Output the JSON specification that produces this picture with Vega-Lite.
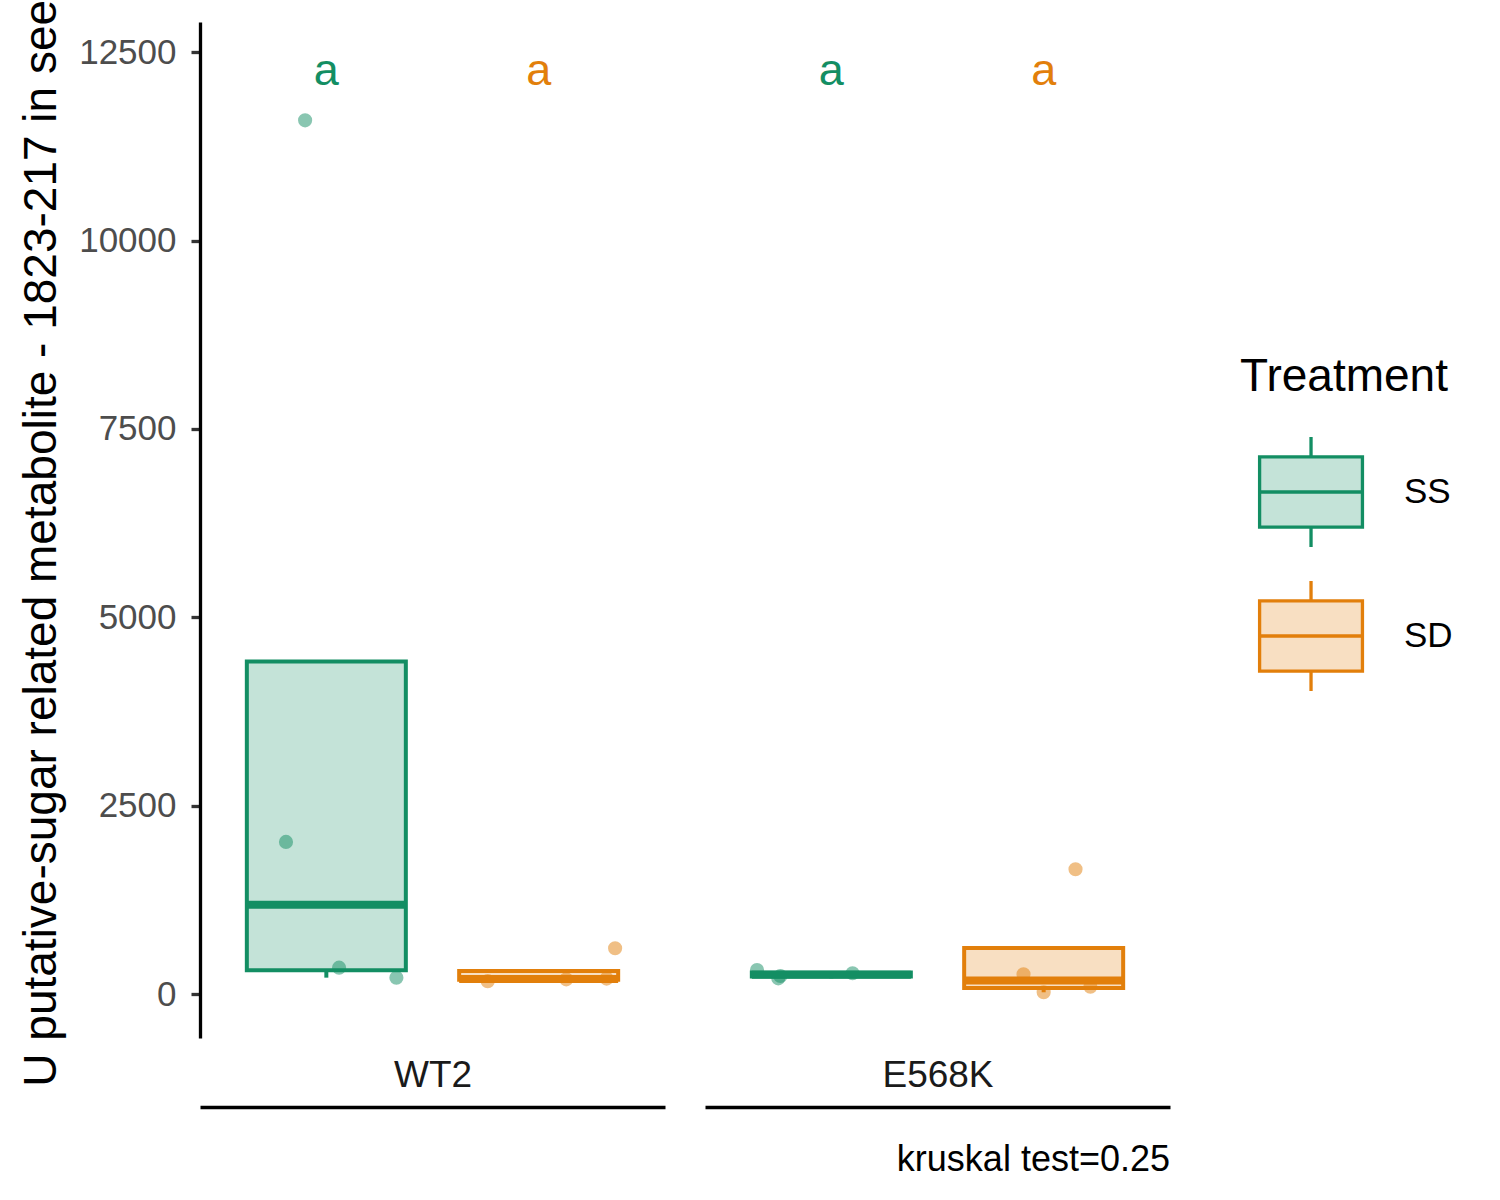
{
  "$schema": "https://vega.github.io/schema/vega-lite/v6.json",
  "autosize": {"type": "none"},
  "padding": {"left": 200, "top": 22, "right": 1300, "bottom": 1178},
  "bounds": "flush",
  "spacing": 40,
  "config": {
    "font": "Liberation Sans",
    "view": {"stroke": null},
    "axis": {"grid": false}
  },
  "datasets": {
    "points": [
      {"Genotype": "WT2", "Treatment": "SS", "value": 11597, "jitter": -0.10},
      {"Genotype": "WT2", "Treatment": "SS", "value": 2019, "jitter": -0.19},
      {"Genotype": "WT2", "Treatment": "SS", "value": 350, "jitter": 0.06},
      {"Genotype": "WT2", "Treatment": "SS", "value": 217, "jitter": 0.33},
      {"Genotype": "WT2", "Treatment": "SD", "value": 170, "jitter": -0.24},
      {"Genotype": "WT2", "Treatment": "SD", "value": 195, "jitter": 0.13},
      {"Genotype": "WT2", "Treatment": "SD", "value": 205, "jitter": 0.32},
      {"Genotype": "WT2", "Treatment": "SD", "value": 607, "jitter": 0.36},
      {"Genotype": "E568K", "Treatment": "SS", "value": 319, "jitter": -0.35},
      {"Genotype": "E568K", "Treatment": "SS", "value": 208, "jitter": -0.25},
      {"Genotype": "E568K", "Treatment": "SS", "value": 239, "jitter": -0.24},
      {"Genotype": "E568K", "Treatment": "SS", "value": 275, "jitter": 0.10},
      {"Genotype": "E568K", "Treatment": "SD", "value": 262, "jitter": -0.095},
      {"Genotype": "E568K", "Treatment": "SD", "value": 23, "jitter": 0.0},
      {"Genotype": "E568K", "Treatment": "SD", "value": 97, "jitter": 0.22},
      {"Genotype": "E568K", "Treatment": "SD", "value": 1656, "jitter": 0.15}
    ],
    "boxes": [
      {"Genotype": "WT2", "Treatment": "SS", "lower": 217, "q1": 316.75, "median": 1184.5, "q3": 4413.5, "upper": 4413.5, "letter": "a"},
      {"Genotype": "WT2", "Treatment": "SD", "lower": 170, "q1": 188.75, "median": 200, "q3": 305.5, "upper": 305.5, "letter": "a"},
      {"Genotype": "E568K", "Treatment": "SS", "lower": 208, "q1": 231.25, "median": 257, "q3": 286, "upper": 286, "letter": "a"},
      {"Genotype": "E568K", "Treatment": "SD", "lower": 23, "q1": 78.5, "median": 179.5, "q3": 610.5, "upper": 610.5, "letter": "a"}
    ]
  },
  "hconcat": [
    {
      "width": 465,
      "height": 1016,
      "encoding": {
        "x": {
          "field": "Treatment", "type": "nominal", "sort": ["SS", "SD"],
          "scale": {"domain": ["SS", "SD"], "paddingInner": 0.25, "paddingOuter": 0.22},
          "axis": {
            "title": "WT2", "titleFontSize": 37, "titleFontWeight": "normal", "titleColor": "#1A1A1A",
            "titleY": -32, "titleBaseline": "middle",
            "labels": false, "ticks": false,
            "domainColor": "#000000", "domainWidth": 3.5, "offset": 69
          }
        },
        "color": {
          "field": "Treatment", "type": "nominal",
          "scale": {"domain": ["SS", "SD"], "range": ["#138E63", "#E27F0B"]},
          "legend": {
            "orient": "none", "legendX": 1040, "legendY": 333,
            "title": "Treatment", "titleFontSize": 46, "titleFontWeight": "normal", "titleColor": "#000000",
            "titleLimit": 400, "titlePadding": 34,
            "labelFontSize": 35, "labelColor": "#000000", "labelOffset": 50,
            "symbolType": "M-0.68,-0.64H1.19V0.64H-0.68Z M0.255,-1V-0.64 M0.255,0.64V1 M-0.68,0H1.19",
            "symbolSize": 12100, "symbolStrokeWidth": 3.3, "rowPadding": 20,
            "encode": {
              "symbols": {
                "update": {
                  "fill": {"scale": "color", "field": "value"},
                  "stroke": {"scale": "color", "field": "value"},
                  "fillOpacity": {"value": 0.25},
                  "opacity": {"value": 1},
                  "strokeWidth": {"value": 3.3}
                }
              }
            }
          }
        }
      },
      "layer": [
        {
          "data": {"name": "points"},
          "transform": [{"filter": "datum.Genotype == 'WT2'"}],
          "mark": {"type": "circle", "size": 200, "opacity": 0.5},
          "encoding": {
            "xOffset": {"field": "jitter", "type": "quantitative", "scale": {"domain": [-0.375, 0.375]}},
            "y": {
              "field": "value", "type": "quantitative",
              "scale": {"domain": [-584, 12902], "nice": false, "zero": false},
              "axis": {
                "values": [0, 2500, 5000, 7500, 10000, 12500], "format": "d",
                "title": "U putative-sugar related metabolite - 1823-217 in seed",
                "titleFontSize": 46, "titleFontWeight": "normal", "titleColor": "#000000",
                "titleX": -145, "titleBaseline": "alphabetic",
                "labelFontSize": 35, "labelColor": "#4D4D4D", "labelPadding": 15,
                "tickSize": 9, "tickWidth": 3.3, "tickColor": "#333333",
                "domainColor": "#000000", "domainWidth": 3.3
              }
            }
          }
        },
        {
          "data": {"name": "boxes"},
          "transform": [{"filter": "datum.Genotype == 'WT2'"}],
          "layer": [
            {
              "mark": {"type": "rule", "strokeWidth": 4},
              "encoding": {
                "y": {
                  "field": "lower", "type": "quantitative",
                  "axis": {
                    "values": [0, 2500, 5000, 7500, 10000, 12500], "format": "d",
                    "title": "U putative-sugar related metabolite - 1823-217 in seed",
                    "titleFontSize": 46, "titleFontWeight": "normal", "titleColor": "#000000",
                    "titleX": -145, "titleBaseline": "alphabetic",
                    "labelFontSize": 35, "labelColor": "#4D4D4D", "labelPadding": 15,
                    "tickSize": 9, "tickWidth": 3.3, "tickColor": "#333333",
                    "domainColor": "#000000", "domainWidth": 3.3
                  }
                },
                "y2": {"field": "q1"}
              }
            },
            {
              "mark": {"type": "rule", "strokeWidth": 4},
              "encoding": {
                "y": {
                  "field": "q3", "type": "quantitative",
                  "axis": {
                    "values": [0, 2500, 5000, 7500, 10000, 12500], "format": "d",
                    "title": "U putative-sugar related metabolite - 1823-217 in seed",
                    "titleFontSize": 46, "titleFontWeight": "normal", "titleColor": "#000000",
                    "titleX": -145, "titleBaseline": "alphabetic",
                    "labelFontSize": 35, "labelColor": "#4D4D4D", "labelPadding": 15,
                    "tickSize": 9, "tickWidth": 3.3, "tickColor": "#333333",
                    "domainColor": "#000000", "domainWidth": 3.3
                  }
                },
                "y2": {"field": "upper"}
              }
            },
            {
              "mark": {"type": "bar", "width": 159, "fillOpacity": 0.25, "strokeWidth": 4},
              "encoding": {
                "y": {
                  "field": "q1", "type": "quantitative",
                  "axis": {
                    "values": [0, 2500, 5000, 7500, 10000, 12500], "format": "d",
                    "title": "U putative-sugar related metabolite - 1823-217 in seed",
                    "titleFontSize": 46, "titleFontWeight": "normal", "titleColor": "#000000",
                    "titleX": -145, "titleBaseline": "alphabetic",
                    "labelFontSize": 35, "labelColor": "#4D4D4D", "labelPadding": 15,
                    "tickSize": 9, "tickWidth": 3.3, "tickColor": "#333333",
                    "domainColor": "#000000", "domainWidth": 3.3
                  }
                },
                "y2": {"field": "q3"},
                "stroke": {
                  "field": "Treatment", "type": "nominal",
                  "scale": {"domain": ["SS", "SD"], "range": ["#138E63", "#E27F0B"]},
                  "legend": null
                }
              }
            },
            {
              "mark": {"type": "tick", "thickness": 8, "size": 159, "opacity": 1},
              "encoding": {
                "y": {
                  "field": "median", "type": "quantitative",
                  "axis": {
                    "values": [0, 2500, 5000, 7500, 10000, 12500], "format": "d",
                    "title": "U putative-sugar related metabolite - 1823-217 in seed",
                    "titleFontSize": 46, "titleFontWeight": "normal", "titleColor": "#000000",
                    "titleX": -145, "titleBaseline": "alphabetic",
                    "labelFontSize": 35, "labelColor": "#4D4D4D", "labelPadding": 15,
                    "tickSize": 9, "tickWidth": 3.3, "tickColor": "#333333",
                    "domainColor": "#000000", "domainWidth": 3.3
                  }
                }
              }
            },
            {
              "mark": {"type": "text", "fontSize": 45, "baseline": "middle"},
              "encoding": {
                "y": {
                  "datum": 12250, "type": "quantitative",
                  "axis": {
                    "values": [0, 2500, 5000, 7500, 10000, 12500], "format": "d",
                    "title": "U putative-sugar related metabolite - 1823-217 in seed",
                    "titleFontSize": 46, "titleFontWeight": "normal", "titleColor": "#000000",
                    "titleX": -145, "titleBaseline": "alphabetic",
                    "labelFontSize": 35, "labelColor": "#4D4D4D", "labelPadding": 15,
                    "tickSize": 9, "tickWidth": 3.3, "tickColor": "#333333",
                    "domainColor": "#000000", "domainWidth": 3.3
                  }
                },
                "text": {"field": "letter"}
              }
            }
          ]
        }
      ]
    },
    {
      "width": 465,
      "height": 1016,
      "title": {
        "text": "kruskal test=0.25", "orient": "bottom", "anchor": "end", "frame": "group",
        "fontSize": 36, "fontWeight": "normal", "color": "#000000", "offset": 36
      },
      "encoding": {
        "x": {
          "field": "Treatment", "type": "nominal", "sort": ["SS", "SD"],
          "scale": {"domain": ["SS", "SD"], "paddingInner": 0.25, "paddingOuter": 0.22},
          "axis": {
            "title": "E568K", "titleFontSize": 37, "titleFontWeight": "normal", "titleColor": "#1A1A1A",
            "titleY": -32, "titleBaseline": "middle",
            "labels": false, "ticks": false,
            "domainColor": "#000000", "domainWidth": 3.5, "offset": 69
          }
        },
        "color": {
          "field": "Treatment", "type": "nominal",
          "scale": {"domain": ["SS", "SD"], "range": ["#138E63", "#E27F0B"]},
          "legend": {
            "orient": "none", "legendX": 1040, "legendY": 333,
            "title": "Treatment", "titleFontSize": 46, "titleFontWeight": "normal", "titleColor": "#000000",
            "titleLimit": 400, "titlePadding": 34,
            "labelFontSize": 35, "labelColor": "#000000", "labelOffset": 50,
            "symbolType": "M-0.68,-0.64H1.19V0.64H-0.68Z M0.255,-1V-0.64 M0.255,0.64V1 M-0.68,0H1.19",
            "symbolSize": 12100, "symbolStrokeWidth": 3.3, "rowPadding": 20,
            "encode": {
              "symbols": {
                "update": {
                  "fill": {"scale": "color", "field": "value"},
                  "stroke": {"scale": "color", "field": "value"},
                  "fillOpacity": {"value": 0.25},
                  "opacity": {"value": 1},
                  "strokeWidth": {"value": 3.3}
                }
              }
            }
          }
        }
      },
      "layer": [
        {
          "data": {"name": "points"},
          "transform": [{"filter": "datum.Genotype == 'E568K'"}],
          "mark": {"type": "circle", "size": 200, "opacity": 0.5},
          "encoding": {
            "xOffset": {"field": "jitter", "type": "quantitative", "scale": {"domain": [-0.375, 0.375]}},
            "y": {
              "field": "value", "type": "quantitative",
              "scale": {"domain": [-584, 12902], "nice": false, "zero": false},
              "axis": null
            }
          }
        },
        {
          "data": {"name": "boxes"},
          "transform": [{"filter": "datum.Genotype == 'E568K'"}],
          "layer": [
            {
              "mark": {"type": "rule", "strokeWidth": 4},
              "encoding": {
                "y": {"field": "lower", "type": "quantitative", "axis": null},
                "y2": {"field": "q1"}
              }
            },
            {
              "mark": {"type": "rule", "strokeWidth": 4},
              "encoding": {
                "y": {"field": "q3", "type": "quantitative", "axis": null},
                "y2": {"field": "upper"}
              }
            },
            {
              "mark": {"type": "bar", "width": 159, "fillOpacity": 0.25, "strokeWidth": 4},
              "encoding": {
                "y": {"field": "q1", "type": "quantitative", "axis": null},
                "y2": {"field": "q3"},
                "stroke": {
                  "field": "Treatment", "type": "nominal",
                  "scale": {"domain": ["SS", "SD"], "range": ["#138E63", "#E27F0B"]},
                  "legend": null
                }
              }
            },
            {
              "mark": {"type": "tick", "thickness": 8, "size": 159, "opacity": 1},
              "encoding": {
                "y": {"field": "median", "type": "quantitative", "axis": null}
              }
            },
            {
              "mark": {"type": "text", "fontSize": 45, "baseline": "middle"},
              "encoding": {
                "y": {"datum": 12250, "type": "quantitative", "axis": null},
                "text": {"field": "letter"}
              }
            }
          ]
        }
      ]
    }
  ]
}
